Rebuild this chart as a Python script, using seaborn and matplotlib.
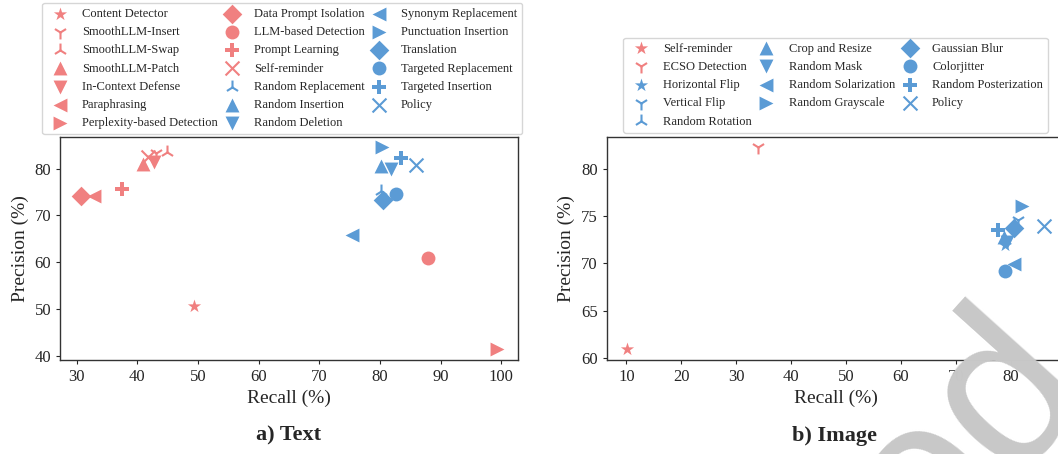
import matplotlib
matplotlib.use("Agg")
import matplotlib.pyplot as plt
import seaborn as sns
import pandas as pd

sns.set_style("ticks")
plt.rcParams['font.family'] = ['Liberation Serif', 'DejaVu Serif']

RED = "#F08080"
BLUE = "#5B9BD5"
MARKERS = ['*', '1', '2', '^', 'v', '<', '>', 'D', 'o', 'P', 'x']
LINE_MARKERS = ['1', '2', 'x']

# a) Text
text_methods = ["Content Detector", "SmoothLLM-Insert", "SmoothLLM-Swap", "SmoothLLM-Patch",
                "In-Context Defense", "Paraphrasing", "Perplexity-based Detection",
                "Data Prompt Isolation", "LLM-based Detection", "Prompt Learning", "Self-reminder",
                "Random Replacement", "Random Insertion", "Random Deletion", "Synonym Replacement",
                "Punctuation Insertion", "Translation", "Targeted Replacement", "Targeted Insertion",
                "Policy"]
text_recall = [49.4, 43.1, 44.9, 41.0, 42.8, 32.9, 99.3, 30.7, 87.9, 37.5, 41.8,
               80.2, 80.1, 81.8, 75.4, 80.3, 80.5, 82.6, 83.4, 86.0]
text_precision = [50.5, 83.3, 83.5, 80.9, 81.3, 74.2, 41.3, 74.2, 60.8, 75.7, 82.4,
                  75.2, 80.6, 80.0, 65.7, 84.6, 73.2, 74.5, 82.2, 80.7]
text_colors = [RED] * 11 + [BLUE] * 9
text_markers = MARKERS + MARKERS[2:]

# b) Image
image_methods = ["Self-reminder", "ECSO Detection", "Horizontal Flip", "Vertical Flip",
                 "Random Rotation", "Crop and Resize", "Random Mask", "Random Solarization",
                 "Random Grayscale", "Gaussian Blur", "Colorjitter", "Random Posterization",
                 "Policy"]
image_recall = [10.2, 33.9, 79.0, 81.3, 80.6, 78.8, 79.3, 80.5, 82.0, 80.6, 79.0, 77.7, 86.0]
image_precision = [60.9, 82.3, 71.9, 74.6, 73.9, 72.8, 72.3, 69.9, 76.1, 73.7, 69.2, 73.5, 74.0]
image_colors = [RED] * 2 + [BLUE] * 11
image_markers = MARKERS[:2] + MARKERS

fig = plt.figure(figsize=(10.58, 4.54), dpi=100)
ax1 = fig.add_axes([0.0569, 0.208, 0.4326, 0.4905])
ax2 = fig.add_axes([0.5734, 0.208, 0.4329, 0.4905])


def draw(ax, methods, recall, precision, colors, markers):
    df = pd.DataFrame({"method": methods, "recall": recall, "precision": precision,
                       "color": colors, "marker": markers})
    for _, r in df.iterrows():
        lw = 1.5 if r["marker"] in LINE_MARKERS else 0
        sns.scatterplot(x=[r["recall"]], y=[r["precision"]], marker=r["marker"],
                        color=r["color"], s=100, linewidth=lw, label=r["method"], ax=ax)
    ax.set_xlabel("Recall (%)", fontsize=14)
    ax.set_ylabel("Precision (%)", fontsize=14)
    ax.tick_params(labelsize=12, length=3, width=0.8)
    for sp in ax.spines.values():
        sp.set_linewidth(1.0)
        sp.set_color("#333333")


draw(ax1, text_methods, text_recall, text_precision, text_colors, text_markers)
draw(ax2, image_methods, image_recall, image_precision, image_colors, image_markers)

ax1.legend(loc="lower center", bbox_to_anchor=(0.485, 1.0), ncol=3, fontsize=9,
           labelspacing=0.5, columnspacing=0.1, handletextpad=0.8, borderaxespad=0.2)
ax2.legend(loc="lower center", bbox_to_anchor=(0.5, 1.0), ncol=3, fontsize=9,
           labelspacing=0.5, columnspacing=0.15, handletextpad=0.8, borderaxespad=0.35)

fig.text(0.273, 0.04, "a) Text", ha="center", va="center", fontsize=16, fontweight="bold")
fig.text(0.789, 0.04, "b) Image", ha="center", va="center", fontsize=16, fontweight="bold")

# watermark partly visible in the corner
fig.text(1.0326, 0.152, "ed", rotation=48, rotation_mode="anchor", ha="right", va="baseline",
         fontsize=160, color="#c8c8c8", family="Liberation Sans", zorder=10)

fig.savefig("out.png", dpi=100)
